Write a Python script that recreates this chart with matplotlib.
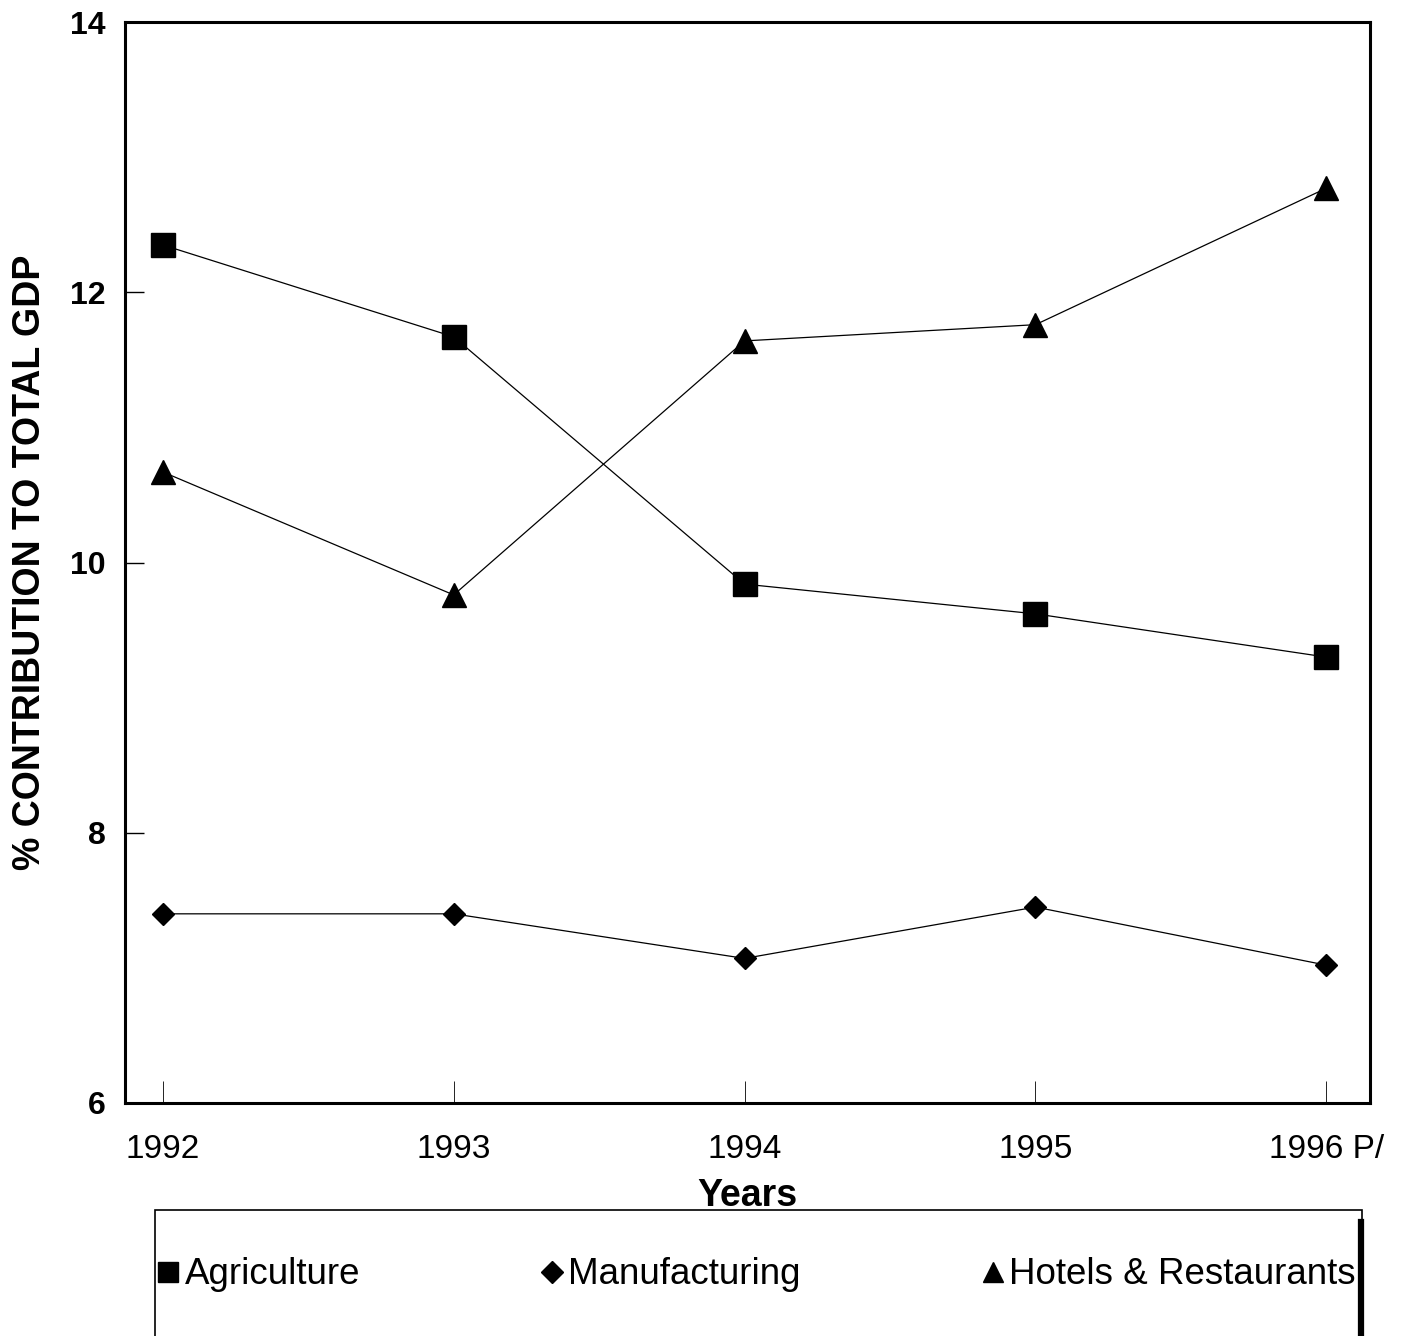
import matplotlib
matplotlib.use("Agg")
import matplotlib.pyplot as plt
from matplotlib.lines import Line2D
from matplotlib.patches import Rectangle

years = ["1992", "1993", "1994", "1995", "1996 P/"]
agriculture = [12.35, 11.67, 9.84, 9.62, 9.30]
manufacturing = [7.40, 7.40, 7.07, 7.45, 7.02]
hotels = [10.67, 9.76, 11.64, 11.76, 12.77]
yticks = [6, 8, 10, 12, 14]

plt.rcParams['font.family'] = ['Liberation Sans', 'DejaVu Sans']

W, H = 1401, 1336
fig = plt.figure(figsize=(W / 100, H / 100), dpi=100)
ax = fig.add_axes([125 / W, 1 - 1103 / H, (1370 - 125) / W, (1103 - 22) / H])

x = list(range(len(years)))
ax.plot(x, agriculture, color='black', lw=0.9, marker='s', ms=17, mfc='black', mec='black', label='Agriculture')
ax.plot(x, manufacturing, color='black', lw=0.9, marker='D', ms=11, mfc='black', mec='black', label='Manufacturing')
ax.plot(x, hotels, color='black', lw=0.9, marker='^', ms=17, mfc='black', mec='black', label='Hotels & Restaurants')

ax.set_xlim(-0.13, 4.15)
ax.set_ylim(6, 14)
ax.set_yticks(yticks)
ax.set_yticklabels([str(v) for v in yticks], fontsize=23, fontweight='bold')
ax.set_xticks(x)
ax.set_xticklabels(years, fontsize=24)

ax.tick_params(axis='y', direction='in', length=14, width=1.0, pad=14)
ax.tick_params(axis='x', direction='in', length=16, width=0.6, pad=22)

for s in ax.spines.values():
    s.set_linewidth(2.2)

ax.set_ylabel('% CONTRIBUTION TO TOTAL GDP', fontsize=27, fontweight='bold', labelpad=16)
ax.set_xlabel('Years', fontsize=27, fontweight='bold', labelpad=10)

# legend frame
fig.patches.append(Rectangle((155 / W, -0.01), (1362 - 155) / W, (1 - 1210 / H) + 0.01,
                             transform=fig.transFigure, fill=False, edgecolor='black', lw=1.2))
fig.add_artist(Line2D([1361 / W, 1361 / W], [0, 1 - 1222 / H], transform=fig.transFigure,
                      color='black', lw=4.5))

handles = [
    Line2D([], [], ls='none', marker='s', ms=15, color='black'),
    Line2D([], [], ls='none', marker='D', ms=11, color='black'),
    Line2D([], [], ls='none', marker='^', ms=15, color='black'),
]
labels = ['Agriculture', 'Manufacturing', 'Hotels & Restaurants']
fig.legend(handles, labels, loc='center left', bbox_to_anchor=(157 / W, 1 - 1275 / H, (1356 - 157) / W, 0.0),
           mode='expand', ncol=3, frameon=False, fontsize=26.5, handlelength=0.6,
           handletextpad=0.15, borderpad=0, borderaxespad=0)

fig.savefig('out.png', dpi=100)
